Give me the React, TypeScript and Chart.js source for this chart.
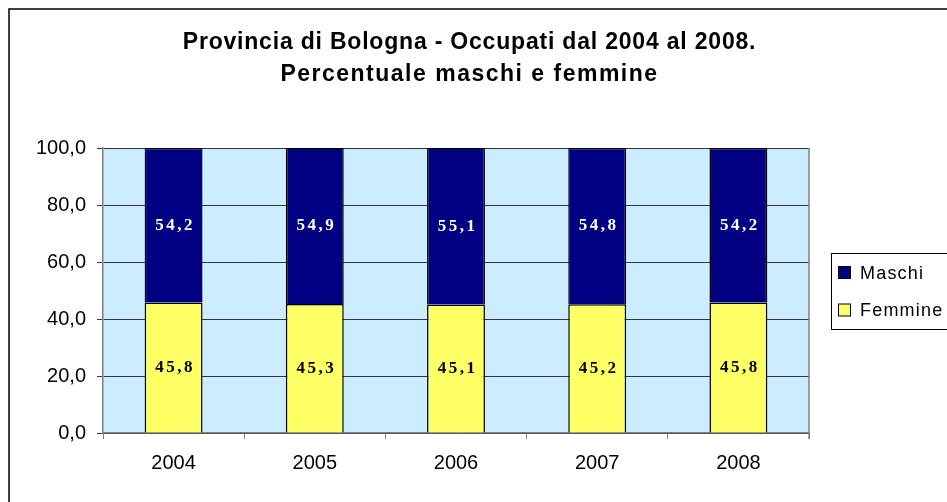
import React, { useEffect, useRef } from "react";
import { Chart, registerables } from "chart.js";

Chart.register(...registerables);

const categories = ["2004", "2005", "2006", "2007", "2008"];
const femmine = [45.8, 45.3, 45.1, 45.2, 45.8];
const maschi = [54.2, 54.9, 55.1, 54.8, 54.2];
const titleLines = [
  "Provincia di Bologna - Occupati dal 2004 al 2008.",
  "Percentuale maschi e femmine",
];
const seriesNames = ["Maschi", "Femmine"];

const NAVY = "#000080";
const YELLOW = "#FFFF66";
const PLOT_BG = "#CCECFF";

const fmt = (v: number, d: number) => v.toFixed(d).replace(".", ",");

const decorPlugin = {
  id: "decor",
  beforeDraw(chart: any) {
    const { ctx, chartArea } = chart;
    ctx.save();
    ctx.fillStyle = "#ffffff";
    ctx.fillRect(0, 0, chart.width, chart.height);
    ctx.fillStyle = PLOT_BG;
    ctx.fillRect(chartArea.left, chartArea.top, chartArea.right - chartArea.left, chartArea.bottom - chartArea.top);
    ctx.restore();
  },
  afterDraw(chart: any) {
    const { ctx, chartArea } = chart;
    ctx.save();
    // outer border
    ctx.strokeStyle = "#000";
    ctx.lineWidth = 1.5;
    ctx.strokeRect(9, 9, 1200, 1200);
    // right plot border
    ctx.strokeStyle = "#808080";
    ctx.lineWidth = 1.5;
    ctx.beginPath();
    ctx.moveTo(chartArea.right, chartArea.top);
    ctx.lineTo(chartArea.right, chartArea.bottom + 6);
    ctx.stroke();
    // title
    ctx.fillStyle = "#000";
    ctx.font = "bold 23px 'Liberation Sans', Arial, sans-serif";
    ctx.textAlign = "center";
    ctx.textBaseline = "middle";
    (ctx as any).letterSpacing = "0.8px";
    ctx.fillText(titleLines[0], 469.5, 43);
    (ctx as any).letterSpacing = "1.5px";
    ctx.fillText(titleLines[1], 469.5, 75);
    // data labels
    ctx.font = "bold 17px 'Liberation Serif', 'Times New Roman', serif";
    (ctx as any).letterSpacing = "2.5px";
    chart.data.datasets.forEach((ds: any, di: number) => {
      const meta = chart.getDatasetMeta(di);
      meta.data.forEach((bar: any, i: number) => {
        const top = Math.max(bar.y, chartArea.top);
        const cy = (top + bar.base) / 2;
        ctx.fillStyle = ds.label === "Maschi" ? "#ffffff" : "#000000";
        ctx.fillText(fmt(ds.data[i], 1), bar.x + 1.5, cy);
      });
    });
    // legend
    ctx.strokeStyle = "#000";
    ctx.lineWidth = 1;
    ctx.strokeRect(831.5, 253.5, 200, 76);
    const items = [
      { name: seriesNames[0], color: NAVY, y: 273 },
      { name: seriesNames[1], color: YELLOW, y: 310.5 },
    ];
    ctx.font = "18px 'Liberation Sans', Arial, sans-serif";
    (ctx as any).letterSpacing = "1.2px";
    ctx.textAlign = "left";
    items.forEach((it) => {
      ctx.fillStyle = it.color;
      ctx.fillRect(838.5, it.y - 6.5, 12, 12);
      ctx.strokeRect(838.5, it.y - 6.5, 12, 12);
      ctx.fillStyle = "#000";
      ctx.fillText(it.name, 860, it.y + 1);
    });
    (ctx as any).letterSpacing = "0px";
    ctx.restore();
  },
};

export default function App() {
  const ref = useRef<HTMLCanvasElement>(null);
  useEffect(() => {
    document.body.style.margin = "0";
    const chart = new Chart(ref.current!, {
      type: "bar",
      data: {
        labels: categories,
        datasets: [
          {
            label: "Femmine",
            data: femmine,
            backgroundColor: YELLOW,
            borderColor: "#000",
            borderWidth: 1.5,
            barPercentage: 0.41,
            categoryPercentage: 1,
          },
          {
            label: "Maschi",
            data: maschi,
            backgroundColor: NAVY,
            borderColor: "#000",
            borderWidth: 1.5,
            barPercentage: 0.41,
            categoryPercentage: 1,
          },
        ],
      },
      options: {
        animation: false,
        responsive: false,
        devicePixelRatio: 1,
        layout: { padding: { top: 148, right: 138, left: 0, bottom: 0 } },
        plugins: { legend: { display: false }, tooltip: { enabled: false }, title: { display: false } },
        scales: {
          x: {
            stacked: true,
            afterFit: (s: any) => { s.height = 69; },
            grid: { display: true, drawOnChartArea: false, drawTicks: true, tickLength: 6, color: "#808080", offset: true },
            border: { display: true, color: "#808080", width: 1.5 },
            ticks: { color: "#000", font: { family: "'Liberation Sans', Arial, sans-serif", size: 20 }, padding: 12 },
          },
          y: {
            stacked: true,
            min: 0,
            max: 100,
            afterFit: (s: any) => { s.width = 103; },
            grid: { color: "#333", lineWidth: 1, tickLength: 6, tickColor: "#333" },
            border: { display: true, color: "#808080", width: 1.5 },
            ticks: {
              stepSize: 20,
              color: "#000",
              padding: 11,
              font: { family: "'Liberation Sans', Arial, sans-serif", size: 20 },
              callback: (v: any) => fmt(Number(v), 1),
            },
          },
        },
      },
      plugins: [decorPlugin],
    });
    return () => chart.destroy();
  }, []);
  return <canvas ref={ref} width={947} height={502} style={{ display: "block" }} />;
}
